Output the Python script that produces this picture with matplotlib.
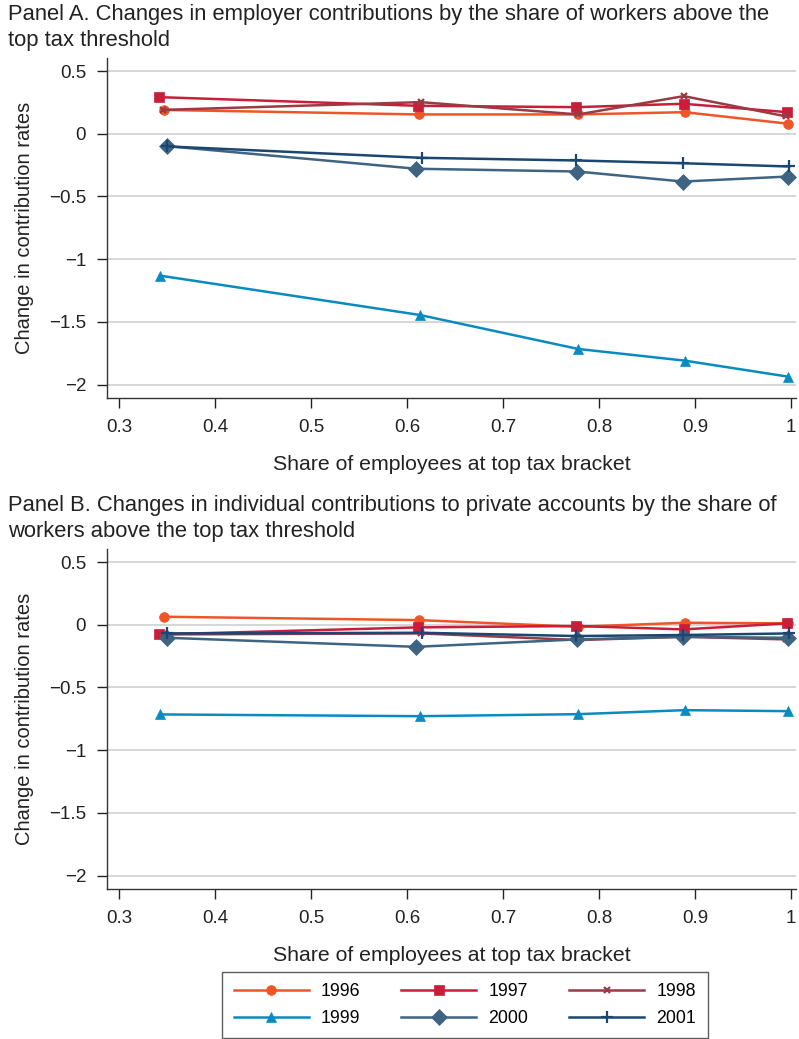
import matplotlib
matplotlib.use("Agg")
import matplotlib.pyplot as plt
from matplotlib.lines import Line2D

plt.rcParams['font.family'] = ['Liberation Sans', 'DejaVu Sans']

years = ["1996", "1997", "1998", "1999", "2000", "2001"]
colors = ["#ef5527", "#c81e3a", "#9a3a45", "#0a8bc0", "#3e6482", "#1b4672"]
markers = ["o", "s", "x", "^", "D", "+"]

# share of employees at top tax bracket (x) per series
x_1996 = [0.346, 0.612, 0.778, 0.889, 0.997]
x_1997 = [0.341, 0.611, 0.776, 0.888, 0.996]
x_1998 = [0.345, 0.614, 0.778, 0.888, 0.995]
x_1999 = [0.342, 0.613, 0.778, 0.889, 0.997]
x_2000 = [0.350, 0.609, 0.777, 0.887, 0.997]
x_2001 = [0.350, 0.615, 0.776, 0.887, 0.998]

# Panel A: employer contributions
a_1996 = [0.19, 0.154, 0.154, 0.172, 0.08]
a_1997 = [0.292, 0.223, 0.212, 0.239, 0.172]
a_1998 = [0.19, 0.252, 0.154, 0.30, 0.138]
a_1999 = [-1.131, -1.445, -1.716, -1.809, -1.937]
a_2000 = [-0.099, -0.279, -0.301, -0.381, -0.341]
a_2001 = [-0.101, -0.192, -0.213, -0.235, -0.261]

# Panel B: individual contributions
b_1996 = [0.064, 0.037, -0.016, 0.016, 0.011]
b_1997 = [-0.077, -0.021, -0.010, -0.037, 0.011]
b_1998 = [-0.077, -0.069, -0.122, -0.096, -0.117]
b_1999 = [-0.715, -0.729, -0.713, -0.681, -0.689]
b_2000 = [-0.104, -0.176, -0.117, -0.096, -0.104]
b_2001 = [-0.069, -0.064, -0.090, -0.082, -0.069]

xs = [x_1996, x_1997, x_1998, x_1999, x_2000, x_2001]
panel_a = [a_1996, a_1997, a_1998, a_1999, a_2000, a_2001]
panel_b = [b_1996, b_1997, b_1998, b_1999, b_2000, b_2001]

x_ticks = [0.3, 0.4, 0.5, 0.6, 0.7, 0.8, 0.9, 1.0]
x_ticklabels = ["0.3", "0.4", "0.5", "0.6", "0.7", "0.8", "0.9", "1"]
y_ticks = [0.5, 0, -0.5, -1, -1.5, -2]
y_ticklabels = ["0.5", "0", "\u22120.5", "\u22121", "\u22121.5", "\u22122"]

title_a = "Panel A. Changes in employer contributions by the share of workers above the\ntop tax threshold"
title_b = "Panel B. Changes in individual contributions to private accounts by the share of\nworkers above the top tax threshold"
xlabel = "Share of employees at top tax bracket"
ylabel = "Change in contribution rates"

W, H = 799, 1039
fig = plt.figure(figsize=(W / 100, H / 100), dpi=100)

def ax_rect(left, top, right, bottom):
    return [left / W, 1 - bottom / H, (right - left) / W, (bottom - top) / H]

mk_size = {"o": 7, "s": 7, "x": 5, "^": 7.5, "D": 8.5, "+": 9}

def mstyle(c, m):
    return dict(color=c, marker=m, lw=1.8, ms=mk_size[m],
                mew=1.6 if m in "x+" else 0.5, mec=c)

def draw(ax, data):
    for xv, yv, c, m in zip(xs, data, colors, markers):
        ax.plot(xv, yv, zorder=3, **mstyle(c, m))
    ax.set_xlim(0.287, 1.005)
    ax.set_ylim(-2.107, 0.604)
    ax.set_xticks(x_ticks)
    ax.set_xticklabels(x_ticklabels)
    ax.set_yticks(y_ticks)
    ax.set_yticklabels(y_ticklabels)
    ax.tick_params(axis='both', labelsize=13.5, colors="#222222", length=7, width=1)
    ax.tick_params(axis='x', pad=8)
    ax.tick_params(axis='y', pad=8)
    ax.grid(axis='y', color="#d0d0d0", lw=1.2, zorder=0)
    for s in ["top", "right"]:
        ax.spines[s].set_visible(False)
    for s in ["left", "bottom"]:
        ax.spines[s].set_color("#333333")
        ax.spines[s].set_linewidth(1.0)
    ax.set_xlabel(xlabel, fontsize=15.3, color="#222222", labelpad=14)
    ax.set_ylabel(ylabel, fontsize=14.5, color="#222222", labelpad=11)

ax1 = fig.add_axes(ax_rect(107, 58, 796, 398))
draw(ax1, panel_a)
ax2 = fig.add_axes(ax_rect(107, 549, 796, 889))
draw(ax2, panel_b)

fig.text(8 / W, 1 - 4 / H, title_a, ha="left", va="top", fontsize=15.8,
         color="#222222", linespacing=1.32)
fig.text(8 / W, 1 - 495 / H, title_b, ha="left", va="top", fontsize=15.8,
         color="#222222", linespacing=1.32)

order = [0, 3, 1, 4, 2, 5]
handles = [Line2D([0], [0], **mstyle(colors[i], markers[i])) for i in order]
labels = [years[i] for i in order]
leg = fig.legend(handles, labels, ncol=3, loc="center",
                 bbox_to_anchor=(465 / W, 1 - 1005 / H), fontsize=12.8,
                 frameon=True, fancybox=False, edgecolor="#333333",
                 handlelength=4.2, columnspacing=2.3, handletextpad=0.7,
                 borderpad=0.65, labelspacing=0.55, borderaxespad=0)
leg.get_frame().set_linewidth(1.0)

fig.savefig("out.png", dpi=100)
